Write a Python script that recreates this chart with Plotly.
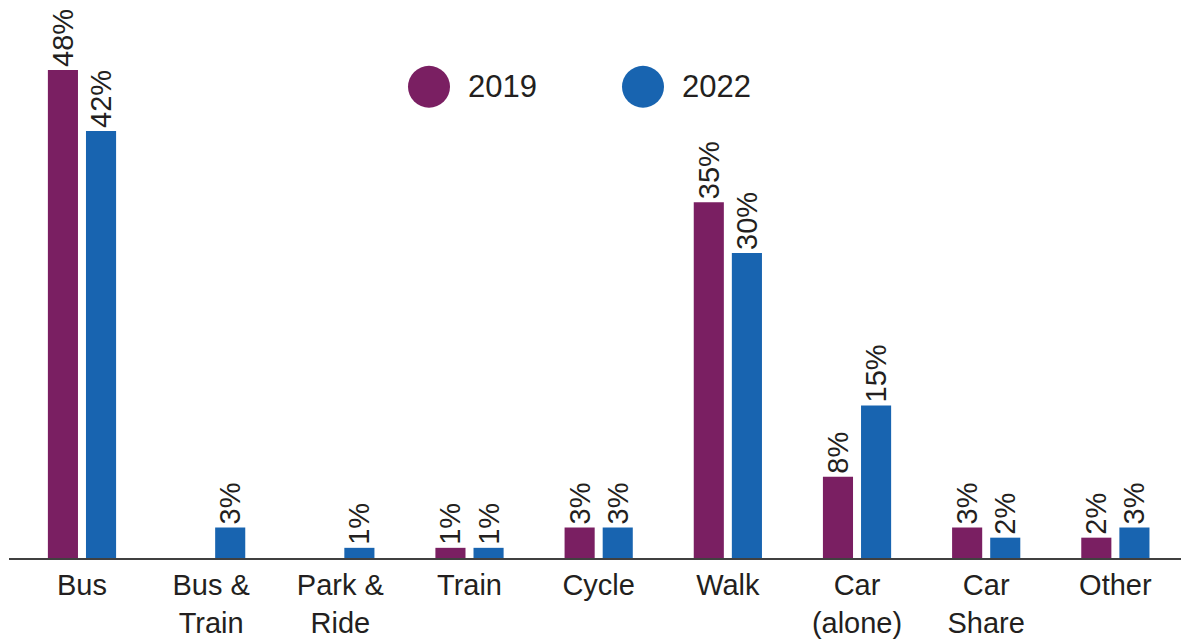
import plotly.graph_objects as go

categories = ["Bus", "Bus &<br>Train", "Park &<br>Ride", "Train", "Cycle", "Walk",
              "Car<br>(alone)", "Car<br>Share", "Other"]
values_2019 = [48, None, None, 1, 3, 35, 8, 3, 2]
values_2022 = [42, 3, 1, 1, 3, 30, 15, 2, 3]
series_names = ["2019", "2022"]
colors = ["#7A1F62", "#1864B0"]

FONT = "Liberation Sans, Arial, Helvetica, sans-serif"
TEXT_COLOR = "#231F20"

fig = go.Figure()
for name, vals, col in zip(series_names, [values_2019, values_2022], colors):
    fig.add_trace(go.Bar(
        x=categories, y=vals, name=name,
        marker=dict(color=col, line=dict(width=0)),
        text=[f"{v}%" if v is not None else "" for v in vals],
        textposition="outside", textangle=-90,
        textfont=dict(family=FONT, size=29, color=TEXT_COLOR),
        constraintext="none", cliponaxis=False,
        showlegend=False,
    ))

# legend drawn as circles + labels (plot area is 1180 x 552 px)
PW, PH = 1180.0, 552.0
legend_items = [(399, 457, "2019"), (613, 671, "2022")]
for (cx, tx, label), col in zip(legend_items, colors):
    fig.add_shape(type="circle", xref="paper", yref="paper",
                  x0=cx / PW, x1=(cx + 42) / PW, y0=1 - 100 / PH, y1=1 - 58 / PH,
                  fillcolor=col, line=dict(width=0))
    fig.add_annotation(xref="paper", yref="paper", x=tx / PW, y=1 - 79 / PH,
                       text=label, showarrow=False, xanchor="left", yanchor="middle",
                       font=dict(family=FONT, size=31, color=TEXT_COLOR))

fig.update_layout(
    width=1181, height=631,
    margin=dict(l=1, r=0, t=0, b=79),
    paper_bgcolor="white", plot_bgcolor="white",
    barmode="group", bargap=0.41, bargroupgap=0.21,
    font=dict(family=FONT, size=29, color=TEXT_COLOR),
    xaxis=dict(
        type="category", range=[-0.565, 8.57],
        showline=True, linecolor="#404040", linewidth=2,
        showgrid=False, ticks="", ticklen=0,
        tickfont=dict(family=FONT, size=29, color=TEXT_COLOR),
    ),
    yaxis=dict(range=[0, 54.1], visible=False, showgrid=False, zeroline=False),
)

fig.write_html("out.html")
